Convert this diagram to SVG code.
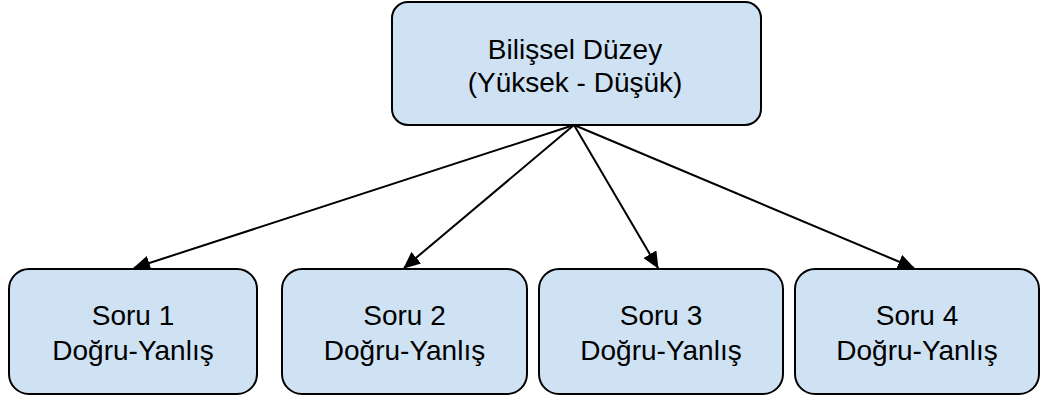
<svg xmlns="http://www.w3.org/2000/svg" width="1041" height="400" viewBox="0 0 1041 400">
  <style>
    .box { fill: #cfe2f3; stroke: #000; stroke-width: 2; }
    .label { font-family: "Liberation Sans", Arial, sans-serif; font-size: 28px; fill: #000; text-anchor: middle; }
    .edge { stroke: #000; stroke-width: 2; fill: none; marker-end: url(#arrow); }
  </style>
  <defs>
    <marker id="arrow" markerUnits="userSpaceOnUse" markerWidth="17" markerHeight="15" viewBox="0 0 17 15" refX="16" refY="7.5" orient="auto">
      <path d="M0,0 L17,7.5 L0,15 z" fill="#000"/>
    </marker>
  </defs>

  <rect width="1041" height="400" fill="#fff"/>

  <!-- connectors from the root to each question -->
  <g id="connectors">
    <line class="edge" x1="574" y1="125" x2="134" y2="268"/>
    <line class="edge" x1="574" y1="125" x2="404" y2="268"/>
    <line class="edge" x1="574" y1="125" x2="658" y2="268"/>
    <line class="edge" x1="574" y1="125" x2="914" y2="268"/>
  </g>

  <g id="root">
    <rect class="box" x="392" y="2" width="369" height="123" rx="16" ry="16"/>
    <text class="label" x="575" y="59">Bilişsel Düzey</text>
    <text class="label" x="575" y="92">(Yüksek - Düşük)</text>
  </g>

  <g id="soru1">
    <rect class="box" x="9" y="269" width="248" height="125" rx="20" ry="20"/>
    <text class="label" x="133" y="325">Soru 1</text>
    <text class="label" x="133" y="360">Doğru-Yanlış</text>
  </g>

  <g id="soru2">
    <rect class="box" x="282" y="269" width="245" height="125" rx="20" ry="20"/>
    <text class="label" x="404.5" y="325">Soru 2</text>
    <text class="label" x="404.5" y="360">Doğru-Yanlış</text>
  </g>

  <g id="soru3">
    <rect class="box" x="539" y="269" width="244" height="125" rx="20" ry="20"/>
    <text class="label" x="661" y="325">Soru 3</text>
    <text class="label" x="661" y="360">Doğru-Yanlış</text>
  </g>

  <g id="soru4">
    <rect class="box" x="795" y="269" width="244" height="125" rx="20" ry="20"/>
    <text class="label" x="917" y="325">Soru 4</text>
    <text class="label" x="917" y="360">Doğru-Yanlış</text>
  </g>
</svg>
